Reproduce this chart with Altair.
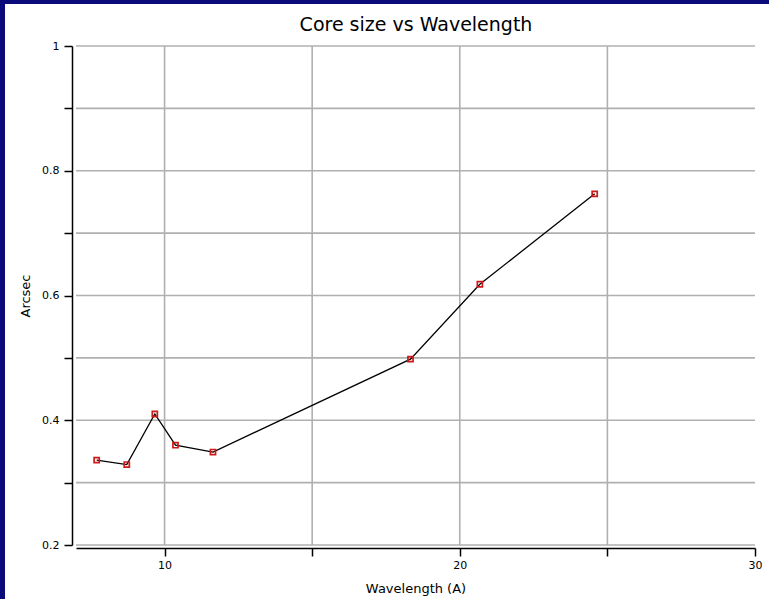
import altair as alt
import pandas as pd

# Data
wavelength = [7.70, 8.72, 9.67, 10.37, 11.64, 18.33, 20.68, 24.57]
arcsec = [0.336, 0.329, 0.410, 0.360, 0.349, 0.498, 0.618, 0.763]

x_ticks = [10, 15, 20, 25, 30]
x_grid = [10, 15, 20, 25]
y_ticks = [0.2, 0.3, 0.4, 0.5, 0.6, 0.7, 0.8, 0.9, 1.0]
title_text = "Core size vs Wavelength"

df = pd.DataFrame({"Wavelength": wavelength, "Arcsec": arcsec})
gx = pd.DataFrame({"g": x_grid})
gy = pd.DataFrame({"g": y_ticks})

FONT = "DejaVu Sans"
xscale = alt.Scale(domain=[7, 30], nice=False, zero=False)
yscale = alt.Scale(domain=[0.2, 1.0], nice=False, zero=False)

W, H = 679, 499

# white slide panel behind the chart (decoration)
panel = alt.Chart(pd.DataFrame({"a": [0]})).mark_rect(color="white").encode(
    x=alt.value(-71), x2=alt.value(W + 20), y=alt.value(-42), y2=alt.value(H + 60)
)

title = alt.Chart(pd.DataFrame({"t": [title_text]})).mark_text(
    font=FONT, fontSize=19, color="black", align="center", baseline="middle"
).encode(text="t:N", x=alt.value(W / 2 + 0.5), y=alt.value(-21))

vgrid = alt.Chart(gx).mark_rule(color="#b0b0b0", strokeWidth=1.6).encode(
    x=alt.X("g:Q", scale=xscale), y=alt.value(0), y2=alt.value(H)
)
hgrid = alt.Chart(gy).mark_rule(color="#b0b0b0", strokeWidth=1.6).encode(
    y=alt.Y("g:Q", scale=yscale), x=alt.value(0), x2=alt.value(W)
)

x_axis = alt.Axis(
    values=x_ticks, grid=False, offset=3, tickSize=8, tickColor="black",
    domainColor="black", domainWidth=1.5, tickWidth=1.5, zindex=1, labelFlush=False,
    labelExpr="datum.value % 10 == 0 ? format(datum.value, 'd') : ''",
    labelFont=FONT, labelFontSize=11, labelColor="black", labelPadding=3,
    title="Wavelength (A)", titleFont=FONT, titleFontSize=13, titleFontWeight="normal",
    titleColor="black", titlePadding=12,
)
y_axis = alt.Axis(
    values=y_ticks, grid=False, offset=4, tickSize=8, tickColor="black",
    domainColor="black", domainWidth=1.5, tickWidth=1.5, zindex=1, labelFlush=False,
    labelExpr="round(datum.value*10) % 2 == 0 ? (datum.value > 0.95 ? '1' : format(datum.value, '.1f')) : ''",
    labelFont=FONT, labelFontSize=11, labelColor="black", labelPadding=5,
    title="Arcsec", titleFont=FONT, titleFontSize=13, titleFontWeight="normal",
    titleColor="black", titlePadding=9,
)

line = alt.Chart(df).mark_line(color="black", strokeWidth=1.3).encode(
    x=alt.X("Wavelength:Q", scale=xscale, axis=x_axis),
    y=alt.Y("Arcsec:Q", scale=yscale, axis=y_axis),
)
pts = alt.Chart(df).mark_point(
    shape="square", size=26, filled=False, color="#cc1a1a", strokeWidth=1.7, opacity=1
).encode(
    x=alt.X("Wavelength:Q", scale=xscale),
    y=alt.Y("Arcsec:Q", scale=yscale),
)

chart = alt.layer(panel, title, vgrid, hgrid, line, pts).properties(
    width=W, height=H,
    autosize=alt.AutoSizeParams(type="none"),
    padding={"left": 76, "top": 46, "right": 14, "bottom": 54},
    background="#0a0a7a",
).configure_view(stroke=None)

chart.save("out.html", embed_options={"renderer": "svg", "actions": False})
